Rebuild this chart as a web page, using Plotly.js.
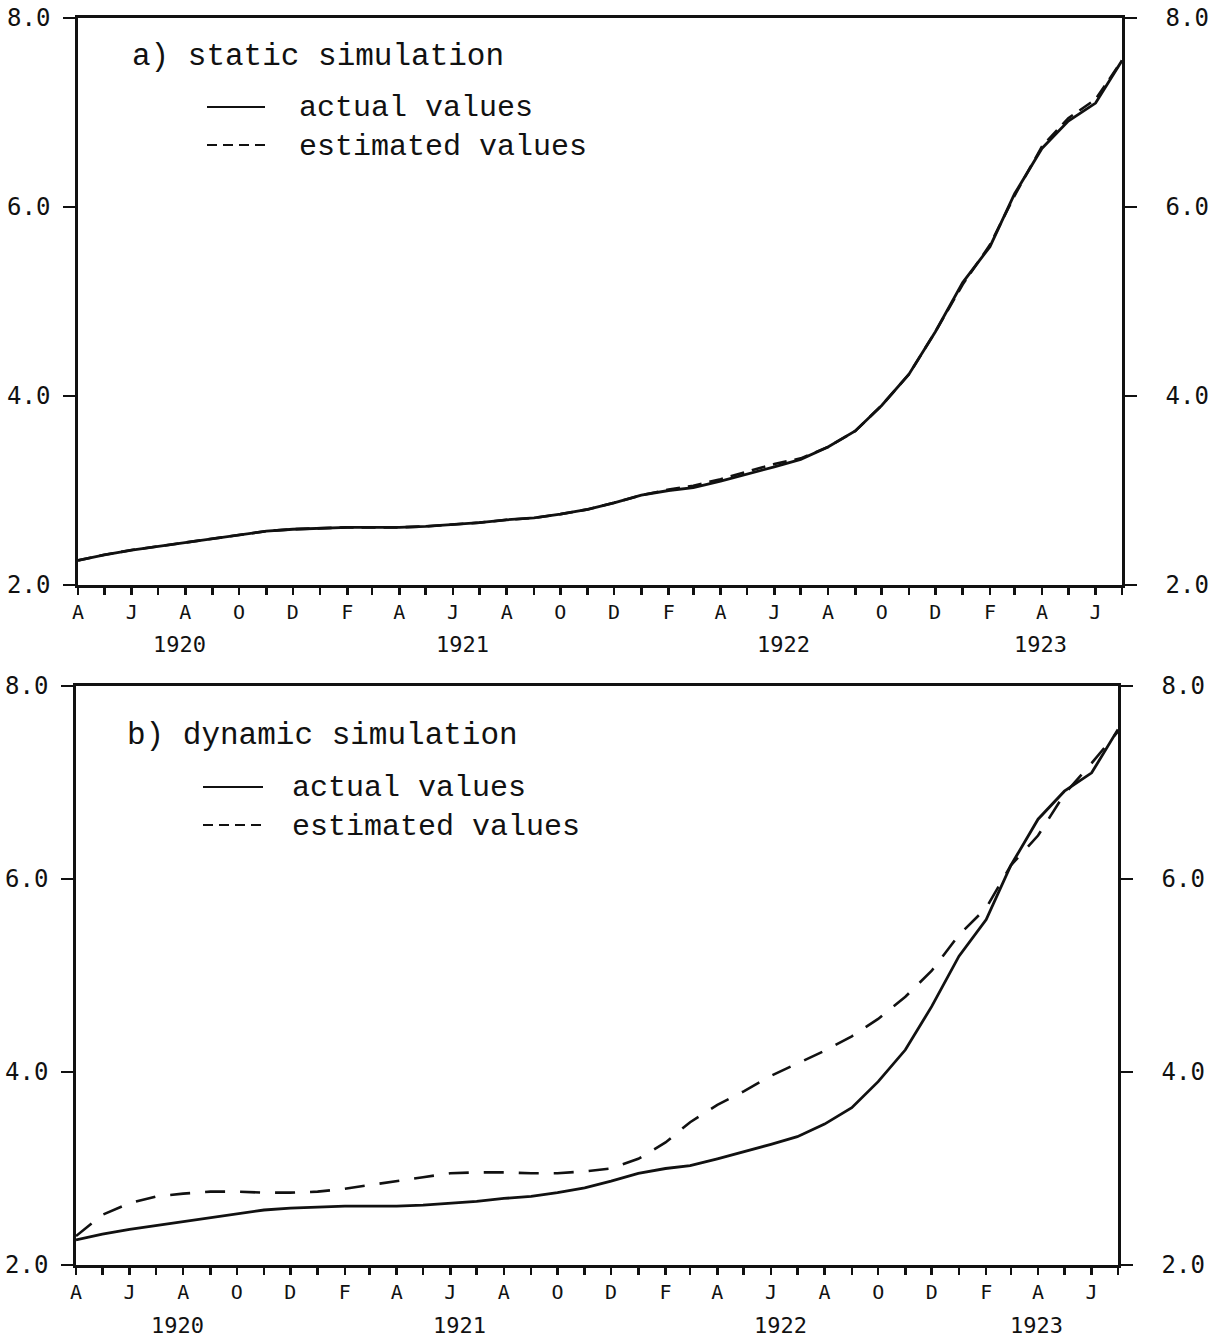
<!DOCTYPE html>
<html>
<head>
<meta charset="utf-8">
<script src="https://cdn.plot.ly/plotly-3.0.1.min.js"></script>
<style>
html,body{margin:0;padding:0;background:#fff;}
#chart{width:1228px;height:1339px;}
</style>
</head>
<body>
<div id="chart"></div>
<script>
// ---- data ----
const monthDates = [
  '1920-04-01','1920-05-01','1920-06-01','1920-07-01','1920-08-01','1920-09-01','1920-10-01','1920-11-01','1920-12-01',
  '1921-01-01','1921-02-01','1921-03-01','1921-04-01','1921-05-01','1921-06-01','1921-07-01','1921-08-01','1921-09-01','1921-10-01','1921-11-01','1921-12-01',
  '1922-01-01','1922-02-01','1922-03-01','1922-04-01','1922-05-01','1922-06-01','1922-07-01','1922-08-01','1922-09-01','1922-10-01','1922-11-01','1922-12-01',
  '1923-01-01','1923-02-01','1923-03-01','1923-04-01','1923-05-01','1923-06-01','1923-07-01'
];
const actualValues = [2.26,2.32,2.37,2.41,2.45,2.49,2.53,2.57,2.59,2.60,2.61,2.61,2.61,2.62,2.64,2.66,2.69,2.71,2.75,2.80,
  2.87,2.95,3.00,3.03,3.10,3.17,3.25,3.33,3.46,3.63,3.90,4.23,4.68,5.20,5.58,6.14,6.62,6.91,7.10,7.55];
const staticEstimated = [2.26,2.32,2.37,2.41,2.45,2.49,2.53,2.57,2.59,2.60,2.61,2.61,2.61,2.62,2.64,2.66,2.69,2.71,2.75,2.80,
  2.87,2.95,3.01,3.05,3.12,3.20,3.28,3.34,3.46,3.63,3.90,4.23,4.68,5.18,5.60,6.12,6.64,6.94,7.14,7.55];
const dynamicEstimated = [2.30,2.52,2.64,2.71,2.74,2.76,2.76,2.75,2.75,2.76,2.79,2.83,2.87,2.91,2.95,2.96,2.96,2.95,2.95,2.97,
  3.00,3.10,3.27,3.48,3.66,3.80,3.96,4.09,4.22,4.37,4.55,4.78,5.05,5.42,5.70,6.14,6.45,6.88,7.20,7.53];

const majorTickDates = ['1920-04-01','1920-06-01','1920-08-01','1920-10-01','1920-12-01','1921-02-01','1921-04-01','1921-06-01',
  '1921-08-01','1921-10-01','1921-12-01','1922-02-01','1922-04-01','1922-06-01','1922-08-01','1922-10-01','1922-12-01',
  '1923-02-01','1923-04-01','1923-06-01'];
const monthLetters = ['A','J','A','O','D','F','A','J','A','O','D','F','A','J','A','O','D','F','A','J'];
const yTickValues = [2,4,6,8];
const yTickLabels = ['2.0','4.0','6.0','8.0'];
const yearLabels = ['1920','1921','1922','1923'];
const yearPositions = ['1920-07-25','1921-06-12','1922-06-12','1923-03-30'];
const panelTitles = ['a) static simulation','b) dynamic simulation'];
const legendNames = ['actual values','estimated values'];

// ---- layout helpers ----
const W = 1228, H = 1339;
const px = x => x / W;
const py = y => 1 - y / H;
const INK = '#111';
const monoTick = 'DejaVu Sans Mono';
const typeFont = 'Liberation Mono, Courier New, monospace';

function xAxis(l, r, anchor) {
  return {
    domain: [px(l), px(r)], anchor: anchor, type: 'date',
    range: [monthDates[0], monthDates[monthDates.length - 1]],
    tickmode: 'array', tickvals: majorTickDates, ticktext: monthLetters,
    ticks: 'outside', ticklen: 7, tickwidth: 2.5, tickcolor: INK,
    minor: {ticks: 'outside', ticklen: 7, tickwidth: 2.5, tickcolor: INK, dtick: 'M1', tick0: monthDates[0], showgrid: false},
    showline: true, linewidth: 2.8, linecolor: INK, mirror: true,
    showgrid: false, zeroline: false,
    tickfont: {family: monoTick, size: 20, color: INK}
  };
}
function yAxis(t, b, anchor, side, overlay, standoff) {
  const a = {
    domain: [py(b), py(t)], anchor: anchor, range: [2, 8],
    tickmode: 'array', tickvals: yTickValues, ticktext: yTickLabels,
    ticks: 'outside', ticklen: 12, tickwidth: 2.5, tickcolor: INK,
    showline: true, linewidth: 2.8, linecolor: INK,
    showgrid: false, zeroline: false, side: side,
    ticklabelstandoff: standoff,
    tickfont: {family: monoTick, size: 24, color: INK}
  };
  if (overlay) a.overlaying = overlay;
  return a;
}

const traces = [
  {x: monthDates, y: actualValues, xaxis: 'x', yaxis: 'y', mode: 'lines', name: legendNames[0],
   line: {color: INK, width: 2.8}, hoverinfo: 'skip'},
  {x: monthDates, y: staticEstimated, xaxis: 'x', yaxis: 'y3', mode: 'lines', name: legendNames[1],
   line: {color: INK, width: 2.6, dash: '14px,8px'}, hoverinfo: 'skip'},
  {x: monthDates, y: actualValues, xaxis: 'x2', yaxis: 'y2', mode: 'lines', name: legendNames[0],
   line: {color: INK, width: 2.8}, hoverinfo: 'skip'},
  {x: monthDates, y: dynamicEstimated, xaxis: 'x2', yaxis: 'y4', mode: 'lines', name: legendNames[1],
   line: {color: INK, width: 2.6, dash: '20px,15px'}, hoverinfo: 'skip'}
];

function txt(text, x, y, size) {
  return {text: text, xref: 'paper', yref: 'paper', x: px(x), y: py(y), xanchor: 'left', yanchor: 'middle',
    align: 'left', showarrow: false, borderpad: 0, font: {family: typeFont, size: size, color: INK}};
}
function yearAnn(text, xd, xref, y) {
  return {text: text, xref: xref, yref: 'paper', x: xd, y: py(y), xanchor: 'center', yanchor: 'middle',
    showarrow: false, font: {family: monoTick, size: 22, color: INK}};
}
function key(x0, x1, y, dash) {
  return {type: 'line', xref: 'paper', yref: 'paper', x0: px(x0), x1: px(x1), y0: py(y), y1: py(y),
    line: {color: INK, width: 2.2, dash: dash}};
}

const legendText = legendNames.join('<br>');
const annotations = [
  txt(panelTitles[0], 131, 57, 31),
  txt(legendText, 298, 127, 30),
  txt(panelTitles[1], 126, 735, 31),
  txt(legendText, 291, 807, 30)
];
yearLabels.forEach((t, i) => {
  annotations.push(yearAnn(t, yearPositions[i], 'x', 645));
  annotations.push(yearAnn(t, yearPositions[i], 'x2', 1325));
});

const layout = {
  width: W, height: H,
  margin: {l: 0, r: 0, t: 0, b: 0},
  paper_bgcolor: '#fff', plot_bgcolor: '#fff',
  showlegend: false,
  xaxis: xAxis(78, 1122, 'y'),
  yaxis: yAxis(18, 585, 'x', 'left', null, 8),
  yaxis3: yAxis(18, 585, 'x', 'right', 'y', 24),
  xaxis2: xAxis(76, 1118, 'y2'),
  yaxis2: yAxis(686, 1265, 'x2', 'left', null, 8),
  yaxis4: yAxis(686, 1265, 'x2', 'right', 'y2', 24),
  annotations: annotations,
  shapes: [
    key(207, 265, 107, 'solid'),
    key(207, 265, 145, '10px,6px'),
    key(203, 263, 787, 'solid'),
    key(203, 263, 825, '10px,6px')
  ]
};

Plotly.newPlot('chart', traces, layout, {staticPlot: true, displayModeBar: false});
</script>
</body>
</html>
